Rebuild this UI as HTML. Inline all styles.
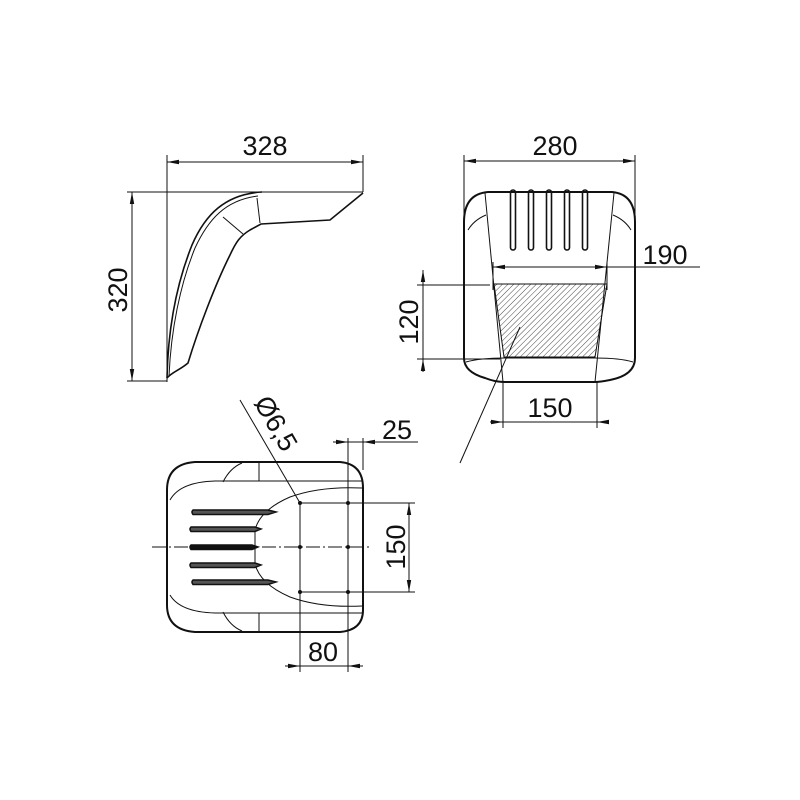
<!DOCTYPE html>
<html><head><meta charset="utf-8"><style>
html,body{margin:0;padding:0;background:#fff;width:800px;height:800px;overflow:hidden}
svg{display:block}
text{font-family:"Liberation Sans",Arial,sans-serif;fill:#111}
</style></head><body>
<svg width="800" height="800" viewBox="0 0 800 800" xmlns="http://www.w3.org/2000/svg">
<defs>
<marker id="a" viewBox="0 0 12 6" refX="12" refY="3" markerWidth="12" markerHeight="6" orient="auto-start-reverse" markerUnits="userSpaceOnUse"><path d="M0,0.8 L12,3 L0,5.2z" fill="#111"/></marker>
<pattern id="h" width="4" height="4" patternUnits="userSpaceOnUse" patternTransform="rotate(45)"><line x1="0" y1="0" x2="0" y2="4" stroke="#333" stroke-width="0.9"/></pattern>
<clipPath id="hc"><path d="M494,284 L607,284 L595,357 L504,357Z"/></clipPath>
</defs>
<g fill="none" stroke="#111" stroke-width="1">
<!-- View 1 -->
<line x1="167" y1="155" x2="167" y2="382"/>
<line x1="363" y1="155" x2="363" y2="192"/>
<line x1="167" y1="162" x2="363" y2="162" marker-start="url(#a)" marker-end="url(#a)"/>
<line x1="127" y1="192" x2="363" y2="192"/>
<line x1="127" y1="381" x2="167" y2="381"/>
<line x1="132" y1="192" x2="132" y2="381" marker-start="url(#a)" marker-end="url(#a)"/>
<g stroke-width="1.6">
<path d="M262,192 C225,194 205,215 192,245 C176,285 168,330 167,378"/>
<path d="M167,378 C172,372 180,370 188,363 C198,330 215,285 230,255 C236,242 240,236 250,230 L261,224 L330,220 L363,193"/>
</g>
<path d="M258,196 C225,200 208,220 195,248 C180,285 171,330 169,376"/>
<line x1="257" y1="198" x2="260" y2="223"/>
<line x1="223" y1="217" x2="243" y2="234"/>
<!-- View 2 -->
<line x1="464" y1="155" x2="464" y2="240"/>
<line x1="635" y1="155" x2="635" y2="240"/>
<line x1="464" y1="161" x2="635" y2="161" marker-start="url(#a)" marker-end="url(#a)"/>
<path stroke-width="2" d="M488,192 L612,192 Q635,194 635,222 L635,358 Q635,375 610,380 Q600,382 595,382 L505,382 Q495,382 485,378 Q464,372 464,358 L464,222 Q464,194 488,192Z"/>
<line x1="485" y1="193" x2="503" y2="382"/>
<line x1="614" y1="193" x2="595" y2="382"/>
<path d="M468,230 Q474,220 486,215"/>
<path d="M631,230 Q625,220 613,215"/>
<path d="M466,362 Q480,358 505,358 L595,358 Q620,358 633,362"/>
<g stroke-width="1.6">
<rect x="510.5" y="190" width="5" height="60" rx="2.5"/>
<rect x="528.5" y="190" width="5" height="60" rx="2.5"/>
<rect x="546.5" y="190" width="5" height="60" rx="2.5"/>
<rect x="564.5" y="190" width="5" height="60" rx="2.5"/>
<rect x="582.5" y="190" width="5" height="60" rx="2.5"/>
</g>
<rect x="480" y="270" width="140" height="100" fill="url(#h)" stroke="none" clip-path="url(#hc)"/>
<path d="M494,284 L607,284 L595,357 L504,357Z"/>
<line x1="493" y1="262" x2="493" y2="290"/>
<line x1="607" y1="262" x2="607" y2="290"/>
<line x1="493" y1="267" x2="607" y2="267" marker-start="url(#a)" marker-end="url(#a)"/>
<line x1="607" y1="267" x2="700" y2="267"/>
<line x1="417" y1="285" x2="490" y2="285"/>
<line x1="417" y1="359" x2="500" y2="359"/>
<line x1="423" y1="270" x2="423" y2="285" marker-start="url(#a)"/>
<line x1="423" y1="285" x2="423" y2="359"/>
<line x1="423" y1="359" x2="423" y2="372" marker-start="url(#a)"/>
<line x1="503" y1="382" x2="503" y2="428"/>
<line x1="597" y1="382" x2="597" y2="428"/>
<line x1="490" y1="422" x2="503" y2="422" marker-end="url(#a)"/>
<line x1="503" y1="422" x2="597" y2="422"/>
<line x1="608" y1="422" x2="597" y2="422" marker-end="url(#a)"/>
<line x1="520" y1="327" x2="460" y2="463"/>
<!-- View 3 -->
<path stroke-width="2" d="M195,462 L340,462 Q363,464 363,488 L363,610 Q363,630 340,632 L195,632 Q167,630 167,605 L167,490 Q167,464 195,462Z"/>
<path d="M170,500 Q180,482 215,481 L362,481"/>
<path d="M170,595 Q180,612 215,613 L362,613"/>
<path d="M362,488 Q320,486 290,497 Q260,510 255,530 L255,564 Q260,584 290,597 Q320,608 362,606"/>
<path d="M223,482 Q230,468 242,463"/>
<path d="M223,612 Q230,626 242,631"/>
<line x1="259" y1="463" x2="259" y2="481"/>
<line x1="259" y1="613" x2="259" y2="631"/>
<g stroke-width="1.5" fill="#555">
<path d="M193,510 L268,510 L276,512 L268,514.5 L193,514.5 Q191,512 193,510Z"/>
<path d="M191,527 L255,527 L261,529 L255,531.5 L191,531.5 Q189,529 191,527Z"/>
<path d="M191,545 L252,545 L258,547 L252,549.5 L191,549.5 Q189,547 191,545Z" fill="#111"/>
<path d="M191,563 L255,563 L261,565 L255,567.5 L191,567.5 Q189,565 191,563Z"/>
<path d="M193,580 L268,580 L276,582 L268,584.5 L193,584.5 Q191,582 193,580Z"/>
</g>
<line x1="152" y1="547" x2="370" y2="547" stroke-dasharray="14,3,2,3"/>
<line x1="300" y1="503" x2="300" y2="672"/>
<line x1="348" y1="438" x2="348" y2="672"/>
<line x1="300" y1="503" x2="415" y2="503"/>
<line x1="300" y1="592" x2="415" y2="592"/>
<line x1="363" y1="438" x2="363" y2="470"/>
<line x1="409" y1="503" x2="409" y2="592" marker-start="url(#a)" marker-end="url(#a)"/>
<line x1="285" y1="666" x2="300" y2="666" marker-end="url(#a)"/>
<line x1="300" y1="666" x2="348" y2="666"/>
<line x1="363" y1="666" x2="348" y2="666" marker-end="url(#a)"/>
<line x1="333" y1="442" x2="348" y2="442" marker-end="url(#a)"/>
<line x1="348" y1="442" x2="363" y2="442"/>
<line x1="378" y1="442" x2="363" y2="442" marker-end="url(#a)"/>
<line x1="363" y1="442" x2="418" y2="442"/>
<line x1="240" y1="400" x2="300" y2="503"/>
</g>
<g fill="#111">
<circle cx="300" cy="503" r="2"/><circle cx="348" cy="503" r="2"/>
<circle cx="300" cy="547" r="2"/><circle cx="348" cy="547" r="2"/>
<circle cx="300" cy="592" r="2"/><circle cx="348" cy="592" r="2"/>
</g>
<g font-size="27">
<text x="265" y="155" text-anchor="middle">328</text>
<text x="555" y="155" text-anchor="middle">280</text>
<text x="665" y="264" text-anchor="middle">190</text>
<text x="550" y="417" text-anchor="middle">150</text>
<text x="397" y="439" text-anchor="middle">25</text>
<text x="323" y="661" text-anchor="middle">80</text>
<text transform="translate(127,290) rotate(-90)" text-anchor="middle">320</text>
<text transform="translate(418,322) rotate(-90)" text-anchor="middle">120</text>
<text transform="translate(405,547) rotate(-90)" text-anchor="middle">150</text>
<text transform="translate(268,428) rotate(60)" text-anchor="middle">Ø6,5</text>
</g>
</svg>
</body></html>
